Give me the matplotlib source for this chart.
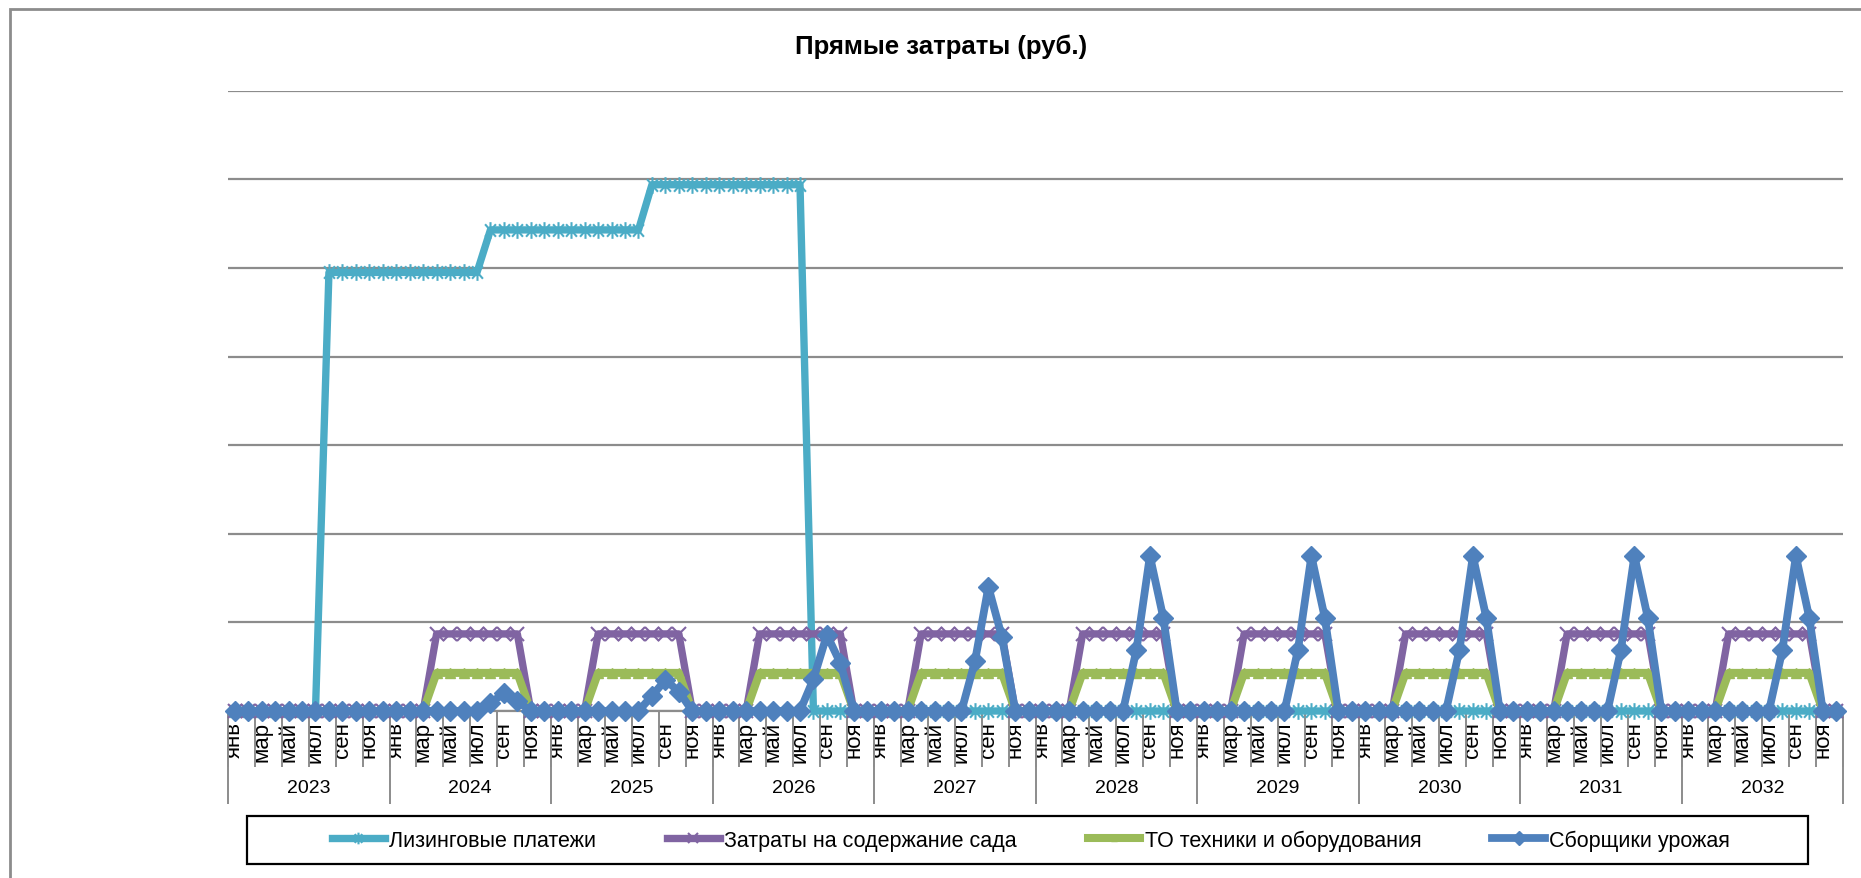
import numpy as np
import matplotlib
matplotlib.use("Agg")
import matplotlib.pyplot as plt
from matplotlib.path import Path
from matplotlib.patches import Rectangle
from matplotlib.ticker import FixedLocator, FixedFormatter, NullFormatter

plt.rcParams['font.family'] = ['Liberation Sans', 'DejaVu Sans']

# ---------------- data ----------------
years = [2023, 2024, 2025, 2026, 2027, 2028, 2029, 2030, 2031, 2032]
months = ['янв', 'фев', 'мар', 'апр', 'май', 'июн', 'июл', 'авг', 'сен', 'окт', 'ноя', 'дек']

series_names = ['Лизинговые платежи', 'Затраты на содержание сада',
                'ТО техники и оборудования', 'Сборщики урожая']

# values in grid units (one gridline step = 1), month by month, one row per year
leasing = [
    0, 0, 0, 0, 0, 0, 0, 4.95, 4.95, 4.95, 4.95, 4.95,                 # 2023
    4.95, 4.95, 4.95, 4.95, 4.95, 4.95, 4.95, 5.43, 5.43, 5.43, 5.43, 5.43,  # 2024
    5.43, 5.43, 5.43, 5.43, 5.43, 5.43, 5.43, 5.94, 5.94, 5.94, 5.94, 5.94,  # 2025
    5.94, 5.94, 5.94, 5.94, 5.94, 5.94, 5.94, 0, 0, 0, 0, 0,            # 2026
    0, 0, 0, 0, 0, 0, 0, 0, 0, 0, 0, 0,                                 # 2027
    0, 0, 0, 0, 0, 0, 0, 0, 0, 0, 0, 0,                                 # 2028
    0, 0, 0, 0, 0, 0, 0, 0, 0, 0, 0, 0,                                 # 2029
    0, 0, 0, 0, 0, 0, 0, 0, 0, 0, 0, 0,                                 # 2030
    0, 0, 0, 0, 0, 0, 0, 0, 0, 0, 0, 0,                                 # 2031
    0, 0, 0, 0, 0, 0, 0, 0, 0, 0, 0, 0,                                 # 2032
]

garden = [
    0, 0, 0, 0, 0, 0, 0, 0, 0, 0, 0, 0,                                 # 2023
    0, 0, 0, 0.87, 0.87, 0.87, 0.87, 0.87, 0.87, 0.87, 0, 0,            # 2024
    0, 0, 0, 0.87, 0.87, 0.87, 0.87, 0.87, 0.87, 0.87, 0, 0,            # 2025
    0, 0, 0, 0.87, 0.87, 0.87, 0.87, 0.87, 0.87, 0.87, 0, 0,            # 2026
    0, 0, 0, 0.87, 0.87, 0.87, 0.87, 0.87, 0.87, 0.87, 0, 0,            # 2027
    0, 0, 0, 0.87, 0.87, 0.87, 0.87, 0.87, 0.87, 0.87, 0, 0,            # 2028
    0, 0, 0, 0.87, 0.87, 0.87, 0.87, 0.87, 0.87, 0.87, 0, 0,            # 2029
    0, 0, 0, 0.87, 0.87, 0.87, 0.87, 0.87, 0.87, 0.87, 0, 0,            # 2030
    0, 0, 0, 0.87, 0.87, 0.87, 0.87, 0.87, 0.87, 0.87, 0, 0,            # 2031
    0, 0, 0, 0.87, 0.87, 0.87, 0.87, 0.87, 0.87, 0.87, 0, 0,            # 2032
]

maintenance = [
    0, 0, 0, 0, 0, 0, 0, 0, 0, 0, 0, 0,                                 # 2023
    0, 0, 0, 0.43, 0.43, 0.43, 0.43, 0.43, 0.43, 0.43, 0, 0,            # 2024
    0, 0, 0, 0.43, 0.43, 0.43, 0.43, 0.43, 0.43, 0.43, 0, 0,            # 2025
    0, 0, 0, 0.43, 0.43, 0.43, 0.43, 0.43, 0.43, 0.43, 0, 0,            # 2026
    0, 0, 0, 0.43, 0.43, 0.43, 0.43, 0.43, 0.43, 0.43, 0, 0,            # 2027
    0, 0, 0, 0.43, 0.43, 0.43, 0.43, 0.43, 0.43, 0.43, 0, 0,            # 2028
    0, 0, 0, 0.43, 0.43, 0.43, 0.43, 0.43, 0.43, 0.43, 0, 0,            # 2029
    0, 0, 0, 0.43, 0.43, 0.43, 0.43, 0.43, 0.43, 0.43, 0, 0,            # 2030
    0, 0, 0, 0.43, 0.43, 0.43, 0.43, 0.43, 0.43, 0.43, 0, 0,            # 2031
    0, 0, 0, 0.43, 0.43, 0.43, 0.43, 0.43, 0.43, 0.43, 0, 0,            # 2032
]

pickers = [
    0, 0, 0, 0, 0, 0, 0, 0, 0, 0, 0, 0,                                 # 2023
    0, 0, 0, 0, 0, 0, 0, 0.09, 0.20, 0.11, 0, 0,                       # 2024
    0, 0, 0, 0, 0, 0, 0, 0.17, 0.35, 0.22, 0, 0,                       # 2025
    0, 0, 0, 0, 0, 0, 0, 0.36, 0.86, 0.54, 0, 0,                       # 2026
    0, 0, 0, 0, 0, 0, 0, 0.56, 1.40, 0.84, 0, 0,                       # 2027
    0, 0, 0, 0, 0, 0, 0, 0.69, 1.75, 1.05, 0, 0,                       # 2028
    0, 0, 0, 0, 0, 0, 0, 0.69, 1.75, 1.05, 0, 0,                       # 2029
    0, 0, 0, 0, 0, 0, 0, 0.69, 1.75, 1.05, 0, 0,                       # 2030
    0, 0, 0, 0, 0, 0, 0, 0.69, 1.75, 1.05, 0, 0,                       # 2031
    0, 0, 0, 0, 0, 0, 0, 0.69, 1.75, 1.05, 0, 0,                       # 2032
]

# ---------------- styles ----------------
C_AQUA = '#4BACC6'
C_PURPLE = '#8064A2'
C_GREEN = '#9BBB59'
C_BLUE = '#4F81BD'
GRID = '#8C8C8C'

star_marker = Path([(0, -1), (0, 1), (-0.65, -0.75), (0.65, 0.75), (-0.65, 0.75), (0.65, -0.75)],
                   [Path.MOVETO, Path.LINETO, Path.MOVETO, Path.LINETO, Path.MOVETO, Path.LINETO])

W, H = 1861, 879
DPI = 100
fig = plt.figure(figsize=(W / DPI, H / DPI), dpi=DPI)
fig.patch.set_facecolor('white')

L, R, B, T = 228, 1843, 712, 91.8
ax = fig.add_axes([L / W, 1 - B / H, (R - L) / W, (B - T) / H])

n = len(years) * len(months)
x = np.arange(n)

lw = 5.3
ax.plot(x, leasing, color=C_AQUA, lw=lw, marker=star_marker, ms=12, mew=1.5,
        mfc='none', mec=C_AQUA, zorder=3, clip_on=False, label=series_names[0])
ax.plot(x, garden, color=C_PURPLE, lw=lw, marker='x', ms=10, mew=1.5,
        mec=C_PURPLE, zorder=4, clip_on=False, label=series_names[1])
ax.plot(x, maintenance, color=C_GREEN, lw=lw + 0.5, marker='^', ms=7, mew=1,
        mfc=C_GREEN, mec=C_GREEN, zorder=5, clip_on=False, label=series_names[2])
ax.plot(x, pickers, color=C_BLUE, lw=lw + 0.3, marker='D', ms=10.5, mew=1,
        mfc=C_BLUE, mec=C_BLUE, zorder=6, clip_on=False, label=series_names[3])

ax.set_xlim(-0.5, n - 0.5)
ax.set_ylim(0, 7)

# y grid only
ax.set_yticks(np.arange(0, 8, 1))
ax.yaxis.set_major_formatter(NullFormatter())
ax.tick_params(axis='y', length=0)
ax.yaxis.grid(True, color=GRID, lw=1.6)
ax.set_axisbelow(True)
for s in ['top', 'left', 'right']:
    ax.spines[s].set_visible(False)
ax.spines['bottom'].set_color(GRID)
ax.spines['bottom'].set_linewidth(1.6)

# month labels (every second month) and month boundary tick lines
label_pos = list(range(0, n, 2))
label_txt = [months[i % 12] for i in label_pos]
ax.xaxis.set_major_locator(FixedLocator(label_pos))
ax.xaxis.set_major_formatter(FixedFormatter(label_txt))
ax.tick_params(axis='x', which='major', length=0, pad=7, labelsize=16, labelrotation=90)
ax.xaxis.set_minor_locator(FixedLocator(list(np.arange(-0.5, n, 2))))
ax.tick_params(axis='x', which='minor', length=40, width=1.4, color=GRID, direction='out')

# year boundaries and labels via secondary axis
sec = ax.secondary_xaxis('bottom')
sec.spines['bottom'].set_visible(False)
sec.xaxis.set_major_locator(FixedLocator(list(np.arange(-0.5, n + 1, 12))))
sec.xaxis.set_major_formatter(NullFormatter())
sec.tick_params(axis='x', which='major', length=67, width=1.4, color=GRID)
sec.xaxis.set_minor_locator(FixedLocator([i * 12 + 5.5 for i in range(len(years))]))
sec.xaxis.set_minor_formatter(FixedFormatter([str(y) for y in years]))
sec.tick_params(axis='x', which='minor', length=0, pad=49, labelsize=14)

# title
fig.text(941 / W, 1 - 47 / H, 'Прямые затраты (руб.)', ha='center', va='center',
         fontsize=18.5, fontweight='bold')

# legend
handles, labels = ax.get_legend_handles_labels()
fig.legend(handles, labels, loc='center', bbox_to_anchor=(1031 / W, 1 - 841 / H),
           ncol=4, frameon=False, fontsize=15.5, handlelength=2.45,
           handletextpad=0.2, columnspacing=3.3, markerscale=0.7)
fig.add_artist(Rectangle((247 / W, 1 - 865 / H), (1808 - 247) / W, (865 - 817) / H,
                         transform=fig.transFigure, fill=False, ec='black', lw=1.6))

# outer chart frame
fig.add_artist(Rectangle((10 / W, -0.1), 1.2, 1 - 10 / H + 0.1,
                         transform=fig.transFigure, fill=False, ec=GRID, lw=2))

fig.savefig('out.png', dpi=DPI)
